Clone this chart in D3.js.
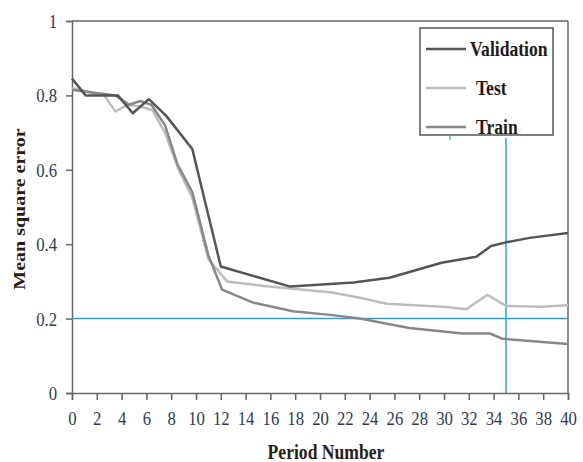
<!DOCTYPE html>
<html>
<head>
<meta charset="utf-8">
<script src="https://cdn.jsdelivr.net/npm/d3@7"></script>
<style>
  html, body { margin: 0; padding: 0; background: #fff; }
  svg { display: block; }
</style>
</head>
<body>
<svg id="chart" width="583" height="462"></svg>
<script>
// Mean square error per training period for the three data splits
const validationX = [0, 1.1, 3.7, 4.9, 6.2, 7.6, 9.7, 12, 17.6, 20.8, 22.7, 25.6, 29.8, 32.6, 33.8, 35, 36.9, 40];
const validationY = [0.845, 0.80, 0.80, 0.752, 0.79, 0.745, 0.656, 0.34, 0.286, 0.293, 0.297, 0.31, 0.35, 0.366, 0.395, 0.405, 0.417, 0.43];

const testX = [0, 1.2, 2.6, 3.5, 4.5, 5.5, 6.5, 7.5, 8.6, 9.7, 11, 12.5, 15.7, 21, 23.2, 25.4, 30.2, 31.8, 33.5, 35, 37.9, 40];
const testY = [0.82, 0.81, 0.80, 0.757, 0.775, 0.77, 0.76, 0.70, 0.60, 0.525, 0.36, 0.30, 0.287, 0.27, 0.256, 0.24, 0.231, 0.225, 0.264, 0.234, 0.232, 0.236];

const trainX = [0, 1.2, 3.5, 4.6, 5.5, 6.4, 7.5, 8.5, 9.7, 11, 12.1, 14.6, 17.8, 20.8, 23.2, 27.2, 31.5, 33.7, 34.7, 40];
const trainY = [0.815, 0.81, 0.80, 0.775, 0.785, 0.775, 0.72, 0.615, 0.54, 0.37, 0.278, 0.243, 0.22, 0.21, 0.2, 0.175, 0.16, 0.16, 0.146, 0.132];

const xTicks = d3.range(0, 41, 2);
const yTicks = [0, 0.2, 0.4, 0.6, 0.8, 1];

// Reference markers (blue guide lines)
const guideY = 0.2;
const guideX = 35;

const seriesNames = ["Validation", "Test", "Train"];
const seriesColors = ["#555555", "#bdbdbd", "#888888"];

const series = [
  { name: seriesNames[0], color: seriesColors[0], pts: validationX.map((v, i) => [v, validationY[i]]) },
  { name: seriesNames[1], color: seriesColors[1], pts: testX.map((v, i) => [v, testY[i]]) },
  { name: seriesNames[2], color: seriesColors[2], pts: trainX.map((v, i) => [v, trainY[i]]) }
];

const svg = d3.select("#chart");
const plotLeft = 72, plotRight = 568, plotTop = 21, plotBottom = 393;
const serif = "'Liberation Serif', 'Times New Roman', serif";
const labelColor = "#2f3a52";
const axisColor = "#666";
const squeeze = "scale(0.88,1)";

const x = d3.scaleLinear().domain([0, 40]).range([plotLeft, plotRight]);
const y = d3.scaleLinear().domain([0, 1]).range([plotBottom, plotTop]);

// Frame: top and right borders
svg.append("line").attr("x1", plotLeft).attr("x2", plotRight).attr("y1", plotTop).attr("y2", plotTop)
  .attr("stroke", axisColor).attr("stroke-width", 1.5);
svg.append("line").attr("x1", plotRight).attr("x2", plotRight).attr("y1", plotTop).attr("y2", plotBottom)
  .attr("stroke", axisColor).attr("stroke-width", 1.5);

// Axes
const xAxis = svg.append("g").attr("transform", `translate(0,${plotBottom})`)
  .call(d3.axisBottom(x).tickValues(xTicks).tickSize(7).tickPadding(0).tickFormat(d3.format("d")));
const yAxis = svg.append("g").attr("transform", `translate(${plotLeft},0)`)
  .call(d3.axisLeft(y).tickValues(yTicks).tickSize(6).tickFormat(d3.format("~g")));

[xAxis, yAxis].forEach(g => {
  g.select(".domain").attr("stroke", axisColor).attr("stroke-width", 1.5);
  g.selectAll(".tick line").attr("stroke", axisColor).attr("stroke-width", 1.5);
  g.selectAll(".tick text")
    .attr("font-family", serif).attr("font-size", 19).attr("fill", labelColor)
    .attr("transform", squeeze);
});
xAxis.selectAll(".tick text").attr("y", 32).attr("dy", null);
yAxis.selectAll(".tick text").attr("x", -17).attr("dy", "0.34em");

// Blue guide lines
svg.append("line").attr("x1", plotLeft).attr("x2", plotRight).attr("y1", y(guideY)).attr("y2", y(guideY))
  .attr("stroke", "#24a0e2").attr("stroke-width", 1.5);
svg.append("line").attr("x1", x(guideX)).attr("x2", x(guideX)).attr("y1", plotBottom).attr("y2", 138)
  .attr("stroke", "#24a0e2").attr("stroke-width", 1.5);
svg.append("line").attr("x1", 450).attr("x2", 450).attr("y1", 136).attr("y2", 140)
  .attr("stroke", "#24a0e2").attr("stroke-width", 1.2);

// Series lines
const line = d3.line().x(d => x(d[0])).y(d => y(d[1]));
svg.append("g").selectAll("path")
  .data([series[1], series[2], series[0]])
  .join("path")
  .attr("d", d => line(d.pts))
  .attr("fill", "none")
  .attr("stroke", d => d.color)
  .attr("stroke-width", 2.5)
  .attr("stroke-linejoin", "round");

// Legend
const legend = svg.append("g");
legend.append("rect").attr("x", 420).attr("y", 28).attr("width", 133).attr("height", 107)
  .attr("fill", "#fff").attr("stroke", "#555").attr("stroke-width", 1.5);
const legendRows = [
  { s: series[0], ly: 49, tx: 470 },
  { s: series[1], ly: 88, tx: 476 },
  { s: series[2], ly: 127, tx: 476 }
];
legendRows.forEach(r => {
  legend.append("line").attr("x1", 426).attr("x2", 466).attr("y1", r.ly).attr("y2", r.ly)
    .attr("stroke", r.s.color).attr("stroke-width", 2.5);
  legend.append("text")
    .attr("transform", `translate(${r.tx},${r.ly + 7}) ${squeeze}`)
    .attr("font-family", serif).attr("font-weight", "bold").attr("font-size", 20)
    .attr("fill", "#1e1a16")
    .text(r.s.name);
});

// Axis titles
svg.append("text")
  .attr("transform", `translate(326,459) ${squeeze}`)
  .attr("text-anchor", "middle")
  .attr("font-family", serif).attr("font-weight", "bold").attr("font-size", 20)
  .attr("fill", "#2a1e14")
  .text("Period Number");
svg.append("text")
  .attr("transform", "translate(25,209) rotate(-90) scale(1,0.88)")
  .attr("text-anchor", "middle")
  .attr("font-family", serif).attr("font-weight", "bold").attr("font-size", 20)
  .attr("fill", "#2a1e14")
  .text("Mean square error");
</script>
</body>
</html>
